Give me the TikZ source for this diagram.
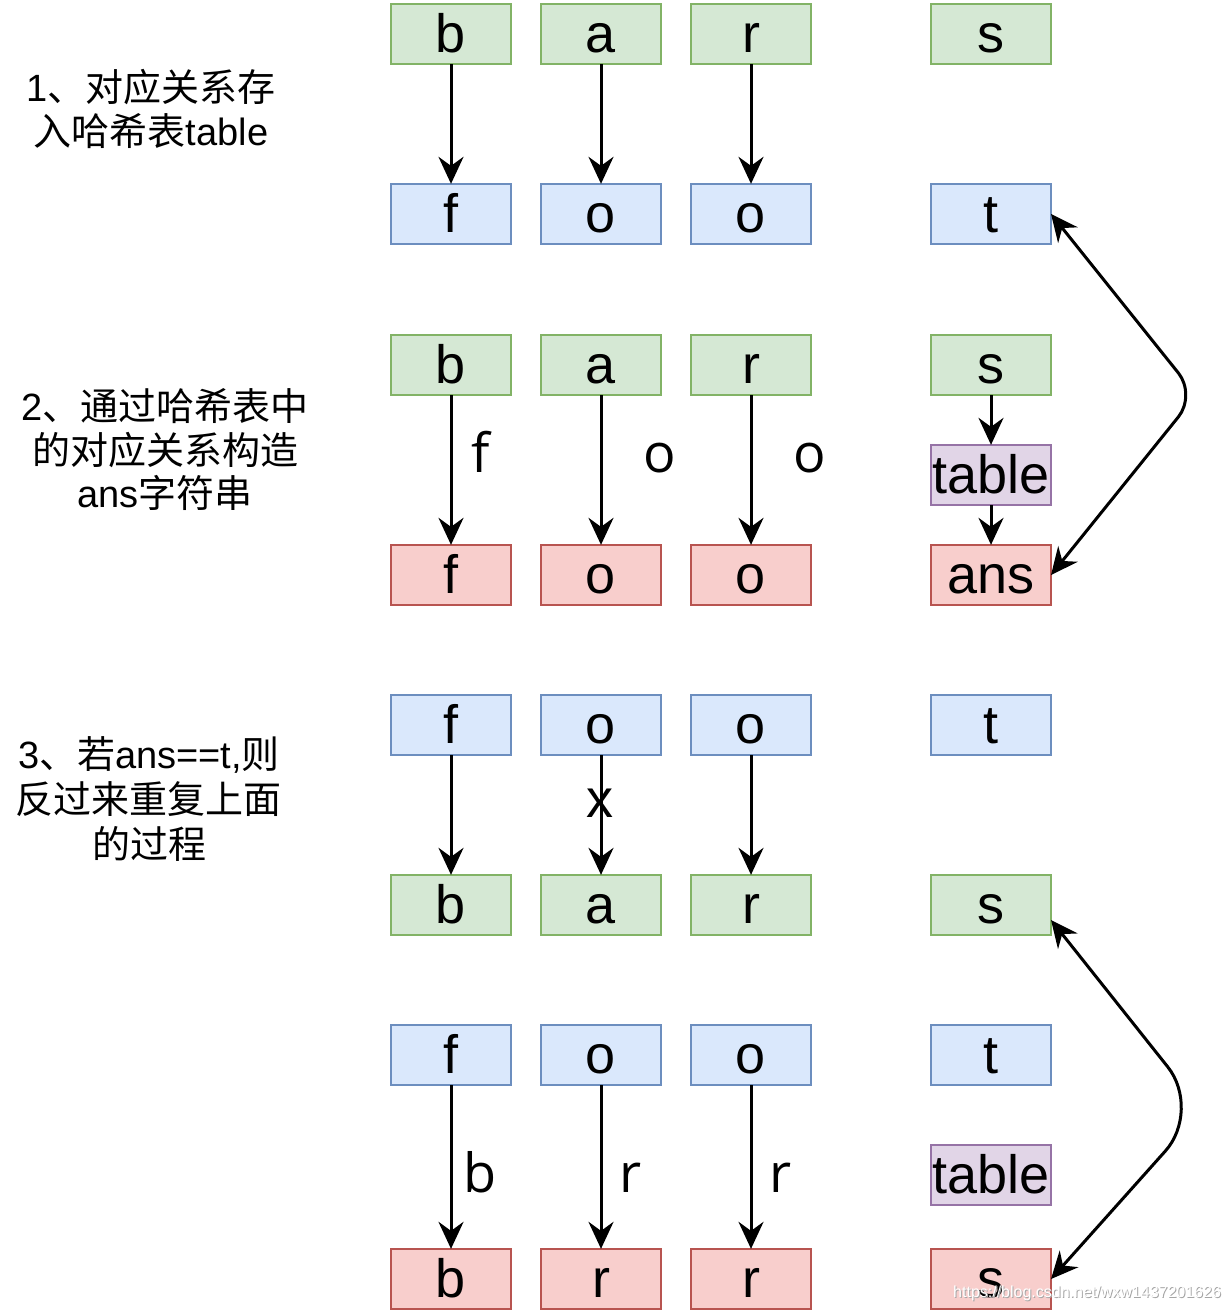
\documentclass[tikz,border=0pt]{standalone}
\usepackage{fontspec}
\setmainfont{Liberation Sans}
\newfontfamily\cjk{Noto Sans CJK SC}
\newfontfamily\lblfont{Open Sans}
\usetikzlibrary{arrows.meta}
\definecolor{gfill}{HTML}{D5E8D4}\definecolor{gline}{HTML}{82B366}
\definecolor{bfill}{HTML}{DAE8FC}\definecolor{bline}{HTML}{6C8EBF}
\definecolor{rfill}{HTML}{F8CECC}\definecolor{rline}{HTML}{B85450}
\definecolor{pfill}{HTML}{E1D5E7}\definecolor{pline}{HTML}{9673A6}
\begin{document}
\begin{tikzpicture}[x=1pt,y=-1pt,
  box/.style={draw, line width=2.5pt, minimum width=120pt, minimum height=60pt,
    inner sep=0pt, outer sep=0pt, font=\fontsize{54}{60}\selectfont,
    text height=48.9pt, text depth=11.4pt},
  gbox/.style={box, fill=gfill, draw=gline},
  bbox/.style={box, fill=bfill, draw=bline},
  rbox/.style={box, fill=rfill, draw=rline},
  pbox/.style={box, fill=pfill, draw=pline},
  arr/.style={line width=3pt, -{Stealth[length=27pt,width=25pt,inset=9pt]}},
  darr/.style={line width=3pt, {Stealth[length=27pt,width=25pt,inset=9pt]}-{Stealth[length=27pt,width=25pt,inset=9pt]}},
  elbl/.style={anchor=base, inner sep=0pt, font=\lblfont\fontsize{54}{60}\selectfont},
  xlbl/.style={anchor=base, inner sep=0pt, font=\fontsize{54}{60}\selectfont},
  side/.style={anchor=base, inner sep=0pt, font=\fontsize{38}{44}\selectfont},
  wm/.style={anchor=base west, inner sep=0pt, font=\fontsize{16}{18}\selectfont}
]
\useasboundingbox (0,0) rectangle (1230,1311);
\fill[white] (0,0) rectangle (1230,1311);

% section 1
\node[gbox] (a1) at (451,34) {b};
\node[gbox] (a2) at (601,34) {a};
\node[gbox] (a3) at (751,34) {r};
\node[gbox] (a4) at (991,34) {s};
\node[bbox] (b1) at (451,214) {f};
\node[bbox] (b2) at (601,214) {o};
\node[bbox] (b3) at (751,214) {o};
\node[bbox] (b4) at (991,214) {t};
\draw[arr] (a1) -- (b1);
\draw[arr] (a2) -- (b2);
\draw[arr] (a3) -- (b3);

% section 2
\node[gbox] (c1) at (451,365) {b};
\node[gbox] (c2) at (601,365) {a};
\node[gbox] (c3) at (751,365) {r};
\node[gbox] (c4) at (991,365) {s};
\node[pbox] (ct) at (991,475) {table};
\node[rbox] (d1) at (451,575) {f};
\node[rbox] (d2) at (601,575) {o};
\node[rbox] (d3) at (751,575) {o};
\node[rbox] (d4) at (991,575) {ans};
\draw[arr] (c1) -- (d1);
\draw[arr] (c2) -- (d2);
\draw[arr] (c3) -- (d3);
\draw[arr] (c4) -- (ct);
\draw[arr] (ct) -- (d4);
\node[elbl] (lf) at (481,472) {f};
\node[elbl] (lo1) at (660,472) {o};
\node[elbl] (lo2) at (810,472) {o};

\coordinate (v1) at (1196,395);
\draw[darr, rounded corners=28pt] (b4.east) -- (v1) -- (d4.east);

% section 3
\node[bbox] (e1) at (451,725) {f};
\node[bbox] (e2) at (601,725) {o};
\node[bbox] (e3) at (751,725) {o};
\node[bbox] (e4) at (991,725) {t};
\node[gbox] (f1) at (451,905) {b};
\node[gbox] (f2) at (601,905) {a};
\node[gbox] (f3) at (751,905) {r};
\node[gbox] (f4) at (991,905) {s};
\draw[arr] (e1) -- (f1);
\draw[arr] (e2) -- (f2);
\draw[arr] (e3) -- (f3);
\node[xlbl] (lx) at (600,817) {x};

% section 4
\node[bbox] (g1) at (451,1055) {f};
\node[bbox] (g2) at (601,1055) {o};
\node[bbox] (g3) at (751,1055) {o};
\node[bbox] (g4) at (991,1055) {t};
\node[pbox] (gt) at (991,1175) {table};
\node[rbox] (h1) at (451,1279) {b};
\node[rbox] (h2) at (601,1279) {r};
\node[rbox] (h3) at (751,1279) {r};
\node[rbox] (h4) at (991,1279) {s};
\draw[arr] (g1) -- (h1);
\draw[arr] (g2) -- (h2);
\draw[arr] (g3) -- (h3);
\node[elbl] (lb) at (480,1192) {b};
\node[elbl] (lr1) at (631,1192) {r};
\node[elbl] (lr2) at (781,1192) {r};

\coordinate (s6a) at ([yshift=-15pt]f4.east);
\coordinate (v2) at (1202,1110);
\draw[darr, rounded corners=55pt] (s6a) -- (v2) -- (h4.east);

% side texts
\node[side] (t1a) at (151,102) {1{\cjk 、对应关系存}};
\node[side] (t1b) at (151,146) {{\cjk 入哈希表}table};
\node[side] (t2a) at (165,420) {2{\cjk 、通过哈希表中}};
\node[side] (t2b) at (165,464) {{\cjk 的对应关系构造}};
\node[side] (t2c) at (165,507) {ans{\cjk 字符串}};
\node[side] (t3a) at (149,768) {3{\cjk 、若}ans==t,{\cjk 则}};
\node[side] (t3b) at (149,813) {{\cjk 反过来重复上面}};
\node[side] (t3c) at (149,858) {{\cjk 的过程}};

% watermark
\node[wm, text=black!35] (wms) at (954,1298) {https://blog.csdn.net/wxw1437201626};
\node[wm, text=white] (wmt) at (953,1297) {https://blog.csdn.net/wxw1437201626};
\end{tikzpicture}
\end{document}
